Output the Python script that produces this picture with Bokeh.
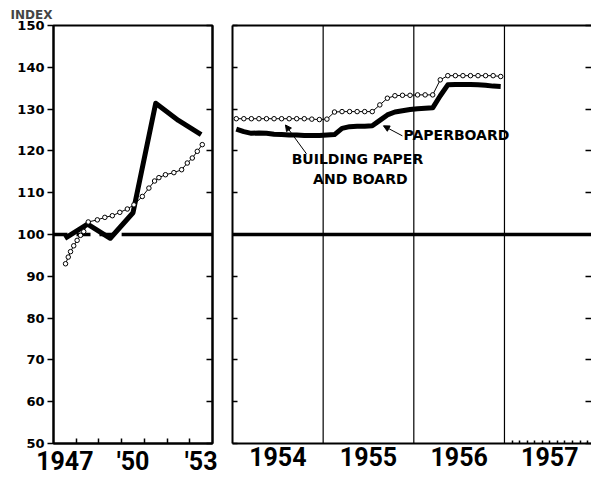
from bokeh.plotting import figure
from bokeh.layouts import row
from bokeh.models import (FixedTicker, LinearAxis, Range1d, Arrow, NormalHead,
                          Label, Span)
from bokeh.embed import file_html
from bokeh.resources import INLINE

# ---------------- data ----------------
annual_years = [1947.5, 1948.5, 1949.5, 1950.5, 1951.5, 1952.5, 1953.5]
paperboard_annual = [99.1, 102.5, 99.1, 105.2, 131.4, 127.3, 123.9]

building_early_t = [1947.53, 1947.65, 1947.75, 1947.89, 1948.04, 1948.19, 1948.33,
                    1948.53, 1948.93, 1949.26, 1949.59, 1949.92, 1950.25, 1950.54,
                    1950.91, 1951.20, 1951.45, 1951.64, 1951.93, 1952.30, 1952.64,
                    1952.89, 1953.11, 1953.33, 1953.55]
building_early = [93.0, 94.6, 95.9, 97.3, 98.6, 99.8, 100.7, 103.0, 103.5, 104.1,
                  104.5, 105.3, 106.1, 107.1, 109.1, 111.1, 112.8, 113.6, 114.3,
                  114.8, 115.5, 117.1, 118.3, 119.9, 121.5]

month_years = [1954, 1955, 1956]
paperboard_monthly = [
    125.2, 124.6, 124.2, 124.3, 124.2, 124.0, 123.9, 123.8, 123.8, 123.7, 123.7, 123.7,
    123.8, 123.9, 125.4, 125.8, 125.9, 125.9, 126.0, 127.3, 128.6, 129.3, 129.6, 129.9,
    130.1, 130.2, 130.3, 133.2, 135.8, 135.9, 135.9, 135.9, 135.8, 135.7, 135.5, 135.4]
building_monthly = [
    127.7, 127.7, 127.7, 127.7, 127.7, 127.7, 127.7, 127.7, 127.7, 127.7, 127.6, 127.5,
    127.6, 129.3, 129.4, 129.4, 129.4, 129.4, 129.4, 131.0, 132.6, 133.2, 133.3, 133.3,
    133.4, 133.4, 133.4, 137.0, 138.0, 138.0, 138.0, 138.0, 138.0, 138.0, 138.0, 137.8]
month_t = [y + (m + 0.5) / 12 for y in month_years for m in range(12)]

base_dashed_t = [1947, 1950]
base_solid_t = [1950, 1954]
base_right_t = [1954, 1958]
base_value = 100

y_ticks = [50, 60, 70, 80, 90, 100, 110, 120, 130, 140, 150]
left_label_pos = {1947.5: "1947", 1950.5: "'50", 1953.5: "'53"}
left_year_bounds = [1948, 1949, 1950, 1951, 1952, 1953]
right_label_pos = {1954.5: "1954", 1955.5: "1955", 1956.5: "1956", 1957.5: "1957"}
right_year_bounds = [1955, 1956, 1957]
minor_1957 = [1957 + m / 12 for m in range(1, 12)]

# ---------------- styling ----------------
TICK_FONT = "DejaVu Sans"
YEAR_FONT = "Roboto"
LW_FRAME = 2
THICK = 5


def blank_axis(**kw):
    ax = LinearAxis(**kw)
    ax.major_label_text_font_size = "1px"
    ax.major_label_text_color = None
    ax.major_label_standoff = 0
    ax.minor_tick_in = 0
    ax.minor_tick_out = 0
    ax.axis_line_width = LW_FRAME
    ax.major_tick_line_width = 1.5
    return ax


def year_axis(labels, minor, minor_len):
    ax = LinearAxis(ticker=FixedTicker(ticks=list(labels.keys()), minor_ticks=minor),
                    major_label_overrides=labels)
    ax.major_tick_in = 0
    ax.major_tick_out = 0
    ax.minor_tick_in = minor_len
    ax.minor_tick_out = 0
    ax.minor_tick_line_width = 1.5
    ax.axis_line_width = LW_FRAME
    ax.major_label_text_font = YEAR_FONT
    ax.major_label_text_font_style = "bold"
    ax.major_label_text_font_size = "25px"
    ax.major_label_text_color = "black"
    ax.major_label_standoff = 3
    return ax


# ---------------- left panel ----------------
pl = figure(width=222, height=478, x_range=Range1d(1947, 1954), y_range=Range1d(50, 150),
            output_backend="svg", toolbar_location=None,
            x_axis_type=None, y_axis_type=None,
            min_border_left=53, min_border_right=10, min_border_top=25, min_border_bottom=35)
pl.grid.visible = False
pl.outline_line_color = "black"
pl.outline_line_width = LW_FRAME
pl.background_fill_color = "white"
pl.border_fill_color = "white"

ly = LinearAxis(ticker=FixedTicker(ticks=y_ticks))
ly.major_tick_out = 6
ly.major_tick_in = 0
ly.minor_tick_in = 0
ly.minor_tick_out = 0
ly.axis_line_width = LW_FRAME
ly.major_tick_line_width = 1.5
ly.major_label_text_font = TICK_FONT
ly.major_label_text_font_style = "bold"
ly.major_label_text_font_size = "13px"
ly.major_label_text_color = "black"
ly.major_label_standoff = 3
pl.add_layout(ly, "left")

ry = blank_axis(ticker=FixedTicker(ticks=y_ticks))
ry.major_tick_in = 6
ry.major_tick_out = 0
pl.add_layout(ry, "right")

pl.add_layout(year_axis(left_label_pos, left_year_bounds, 5), "below")

pl.title.text = "INDEX"
pl.title.text_font = TICK_FONT
pl.title.text_font_style = "bold"
pl.title.text_font_size = "12px"
pl.title.align = "left"
pl.title.offset = -43
pl.title.standoff = 7

pl.line(base_dashed_t, [base_value] * 2, line_width=3.5, color="black", line_dash="14 9")
pl.line(base_solid_t, [base_value] * 2, line_width=3.5, color="black")
pl.line(annual_years, paperboard_annual, line_width=THICK, color="black", line_join="round")
pl.line(building_early_t, building_early, line_width=1, color="black")
pl.scatter(building_early_t, building_early, size=4.5, fill_color="white", line_color="black",
           line_width=1)

# ---------------- right panel ----------------
pr = figure(width=369, height=478, x_range=Range1d(1954, 1957.96), y_range=Range1d(50, 150),
            output_backend="svg", toolbar_location=None,
            x_axis_type=None, y_axis_type=None,
            min_border_left=10, min_border_right=0, min_border_top=25, min_border_bottom=35)
pr.grid.visible = False
pr.outline_line_color = None
pr.background_fill_color = "white"
pr.border_fill_color = "white"

rly = blank_axis(ticker=FixedTicker(ticks=y_ticks))
rly.major_tick_in = 5
rly.major_tick_out = 0
pr.add_layout(rly, "left")

rry = blank_axis(ticker=FixedTicker(ticks=y_ticks))
rry.major_tick_in = 6
rry.major_tick_out = 0
rry.axis_line_color = None
pr.add_layout(rry, "right")

rtop = blank_axis(ticker=FixedTicker(ticks=[]))
rtop.major_tick_in = 0
rtop.major_tick_out = 0
pr.add_layout(rtop, "above")

pr.add_layout(year_axis(right_label_pos, minor_1957, 3), "below")

for yb in right_year_bounds:
    pr.add_layout(Span(location=yb, dimension="height", line_color="black", line_width=1.2))

pr.line(base_right_t, [base_value] * 2, line_width=3.5, color="black")
pr.line(month_t, paperboard_monthly, line_width=THICK, color="black", line_join="round")
pr.line(month_t, building_monthly, line_width=1, color="black")
pr.scatter(month_t, building_monthly, size=4.5, fill_color="white", line_color="black",
           line_width=1)

LABEL_FONT = "DejaVu Sans"
for txt, x, y in [("BUILDING PAPER", 1955.378, 118.0), ("AND BOARD", 1955.41, 113.3),
                  ("PAPERBOARD", 1956.47, 123.8)]:
    pr.add_layout(Label(x=x, y=y, text=txt, text_font=LABEL_FONT, text_font_style="bold",
                        text_font_size="14px", text_align="center", text_baseline="middle",
                        text_color="black"))

pr.add_layout(Arrow(end=NormalHead(size=6, fill_color="black", line_color="black"),
                    x_start=1954.816, y_start=119.3, x_end=1954.584, y_end=126.2,
                    line_width=1, line_color="black"))
pr.add_layout(Arrow(end=NormalHead(size=6, fill_color="black", line_color="black"),
                    x_start=1955.874, y_start=123.6, x_end=1955.665, y_end=126.0,
                    line_width=1, line_color="black"))

layout = row(pl, pr)
open("out.html", "w").write(file_html(layout, INLINE))
